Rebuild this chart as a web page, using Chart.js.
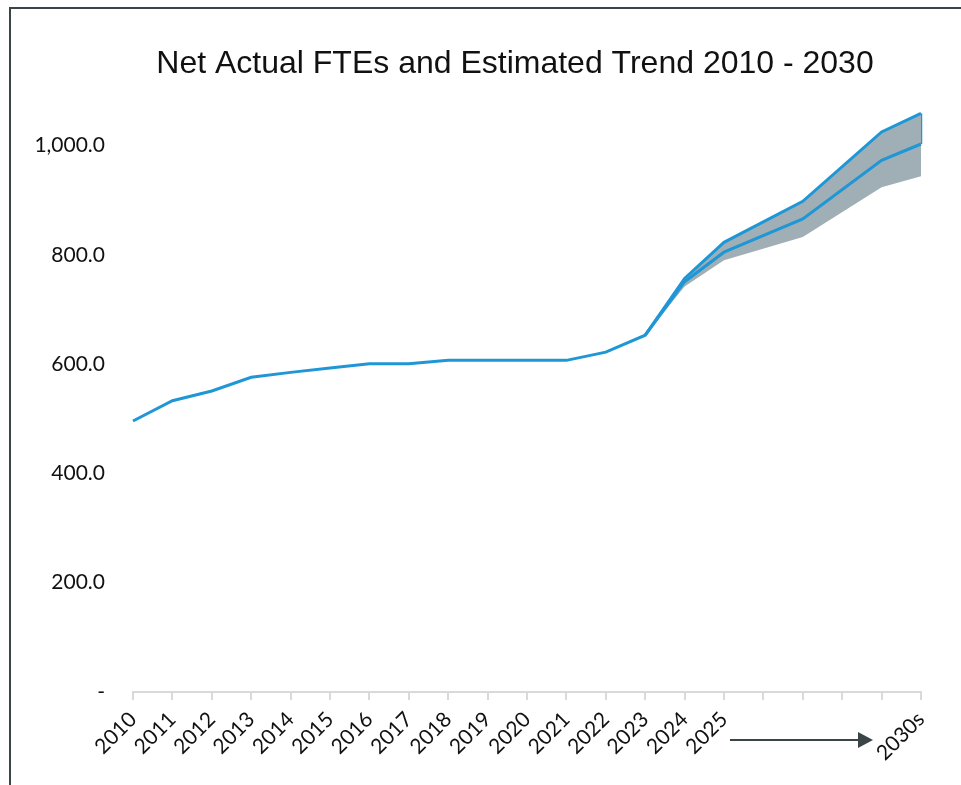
<!DOCTYPE html>
<html>
<head>
<meta charset="utf-8">
<title>Net Actual FTEs and Estimated Trend 2010 - 2030</title>
<script src="https://cdn.jsdelivr.net/npm/chart.js@4/dist/chart.umd.min.js"></script>
<style>
  html, body { margin: 0; padding: 0; background: #fff; }
  #wrap { position: relative; width: 961px; height: 785px; overflow: hidden; }
  #frame {
    position: absolute; left: 9px; top: 7px; right: -10px; bottom: -10px;
    border-left: 2px solid #3a4547; border-top: 2px solid #3a4547;
  }
  #chart { position: absolute; left: 0; top: 0; }
</style>
</head>
<body>
<div id="wrap">
  <div id="frame"></div>
  <canvas id="chart" width="961" height="785"></canvas>
</div>
<script>
'use strict';

// years along the bottom, the gap before 2030s is left unlabelled
var years = ['2010', '2011', '2012', '2013', '2014', '2015', '2016', '2017',
  '2018', '2019', '2020', '2021', '2022', '2023', '2024', '2025',
  '', '', '', '', '2030s'];

// net FTEs, actual up to 2023 then the central estimate
var fteTrend = [496, 533, 551, 576, 585, 593, 601, 601, 607, 607, 607, 607,
  622, 653, 751, 805, null, 866, null, 973, 1003];

// estimate range
var fteHigh = [null, null, null, null, null, null, null, null, null, null, null, null,
  null, 653, 757, 823, null, 898, null, 1025, 1059];
var fteLow = [null, null, null, null, null, null, null, null, null, null, null, null,
  null, 653, 742, 790, null, 833, null, 924, 944];

var yTicks = [0, 200, 400, 600, 800, 1000];

var blue = '#1f97d6';
var band = '#a0afb5';
var dark = '#3a4547';
var tickFont = { family: 'Lato, "Open Sans", sans-serif', size: 21 };

var titlePlugin = {
  id: 'drawTitle',
  afterDraw: function (chart) {
    var ctx = chart.ctx;
    ctx.save();
    ctx.fillStyle = '#111';
    ctx.font = '32px "Liberation Sans", Arial, sans-serif';
    ctx.textAlign = 'center';
    ctx.textBaseline = 'middle';
    ctx.fillText('Net Actual FTEs and Estimated Trend 2010 - 2030', 515, 64);
    ctx.restore();
  }
};

// arrow running from 2025 toward 2030s under the axis
var arrowPlugin = {
  id: 'trendArrow',
  afterDraw: function (chart) {
    var x = chart.scales.x;
    var ctx = chart.ctx;
    var x0 = x.getPixelForValue(15) + 6;
    var x1 = x.getPixelForValue(20) - 48;
    var y = 740;
    ctx.save();
    ctx.strokeStyle = dark;
    ctx.fillStyle = dark;
    ctx.lineWidth = 2;
    ctx.beginPath();
    ctx.moveTo(x0, y);
    ctx.lineTo(x1 - 12, y);
    ctx.stroke();
    ctx.beginPath();
    ctx.moveTo(x1, y);
    ctx.lineTo(x1 - 15, y - 8);
    ctx.lineTo(x1 - 15, y + 8);
    ctx.closePath();
    ctx.fill();
    ctx.restore();
  }
};

var ctx = document.getElementById('chart');
var chart = new Chart(ctx, {
  type: 'line',
  data: {
    labels: years,
    datasets: [{
      label: 'Net FTEs',
      data: fteTrend,
      borderColor: blue,
      borderWidth: 3,
      pointRadius: 0,
      spanGaps: true,
      fill: false
    }, {
      label: 'High',
      data: fteHigh,
      borderColor: blue,
      borderWidth: 3,
      backgroundColor: band,
      pointRadius: 0,
      spanGaps: true,
      fill: '+1'
    }, {
      label: 'Low',
      data: fteLow,
      borderColor: 'transparent',
      borderWidth: 0,
      pointRadius: 0,
      spanGaps: true,
      fill: false
    }, {
      label: 'Edge',
      data: [{ x: '2030s', y: fteHigh[20] }, { x: '2030s', y: fteTrend[20] }],
      borderColor: blue,
      borderWidth: 3,
      pointRadius: 0,
      fill: false
    }]
  },
  options: {
    responsive: false,
    animation: false,
    layout: { padding: { top: 91, left: 0, right: 40, bottom: 0 } },
    plugins: {
      legend: { display: false },
      title: { display: false },
      tooltip: { enabled: false }
    },
    scales: {
      x: {
        type: 'category',
        offset: false,
        grid: {
          display: true,
          drawOnChartArea: false,
          drawTicks: true,
          tickLength: 8,
          color: '#d9d9d9',
          lineWidth: 2
        },
        border: { display: true, color: '#d9d9d9', width: 2 },
        ticks: {
          autoSkip: false,
          maxRotation: 45,
          minRotation: 45,
          padding: 7,
          color: '#111',
          font: tickFont
        },
        afterFit: function (scale) { scale.height = 93; }
      },
      y: {
        min: 0,
        max: 1100,
        grid: { display: false, drawTicks: false },
        border: { display: false },
        afterBuildTicks: function (scale) {
          scale.ticks = yTicks.map(function (v) { return { value: v }; });
        },
        ticks: {
          padding: 28,
          color: '#111',
          font: tickFont,
          callback: function (v) {
            if (v === 0) return '-';
            return v.toLocaleString('en-US', { minimumFractionDigits: 1, maximumFractionDigits: 1 });
          }
        },
        afterFit: function (scale) { scale.width = 133; }
      }
    }
  },
  plugins: [titlePlugin, arrowPlugin]
});
</script>
</body>
</html>
